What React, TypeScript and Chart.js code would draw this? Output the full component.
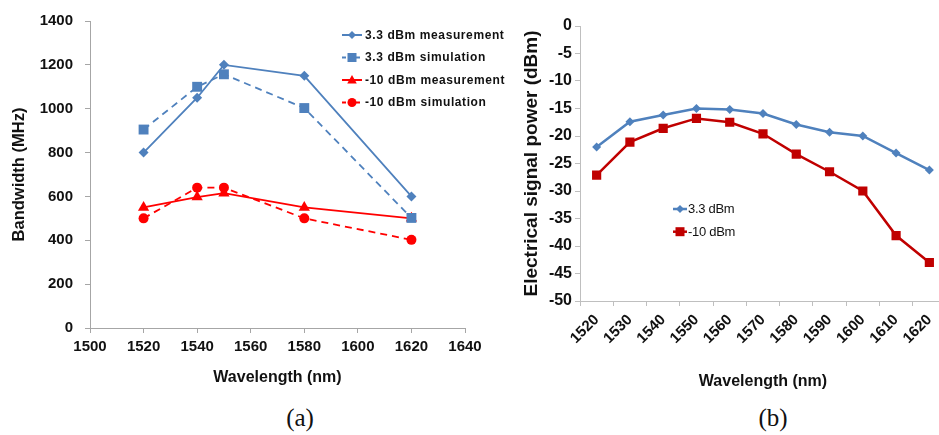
import React, { useEffect, useRef } from 'react';
import { Chart, registerables } from 'chart.js';

Chart.register(...registerables);

// ---------- Panel (a) data ----------
const wavelengthsA = [1520, 1540, 1550, 1580, 1620];
const meas33 = [800, 1050, 1200, 1150, 600];
const sim33 = [905, 1100, 1157, 1003, 502];
const meas10 = [550, 597, 615, 550, 500];
const sim10 = [500, 640, 640, 500, 402];
const labelsA = ['3.3 dBm measurement', '3.3 dBm simulation', '-10 dBm measurement', '-10 dBm simulation'];

// ---------- Panel (b) data ----------
const categoriesB = ['1520', '1530', '1540', '1550', '1560', '1570', '1580', '1590', '1600', '1610', '1620'];
const power33 = [-22, -17.4, -16.2, -15, -15.2, -15.9, -17.9, -19.3, -20, -23.1, -26.2];
const powerM10 = [-27.1, -21.1, -18.6, -16.8, -17.5, -19.6, -23.3, -26.5, -30, -38.1, -43];
const labelsB = ['3.3 dBm', '-10 dBm'];

const BLUE = '#4F81BD';
const RED = '#FF0000';
const DARKRED = '#C00000';
const AXIS = '#A6A6A6';
const SANS = '"Liberation Sans", Arial, sans-serif';

const plain = (v: any) => String(v);

function drawMarker(ctx: CanvasRenderingContext2D, style: string, x: number, y: number, r: number, color: string) {
  ctx.save();
  ctx.fillStyle = color;
  ctx.beginPath();
  if (style === 'rectRot') {
    ctx.moveTo(x, y - r);
    ctx.lineTo(x + r, y);
    ctx.lineTo(x, y + r);
    ctx.lineTo(x - r, y);
    ctx.closePath();
  } else if (style === 'rect') {
    ctx.rect(x - r, y - r, 2 * r, 2 * r);
  } else if (style === 'triangle') {
    ctx.moveTo(x, y - r);
    ctx.lineTo(x + r * 0.95, y + r * 0.7);
    ctx.lineTo(x - r * 0.95, y + r * 0.7);
    ctx.closePath();
  } else {
    ctx.arc(x, y, r, 0, Math.PI * 2);
  }
  ctx.fill();
  ctx.restore();
}

type LegendSpec = {
  x0: number; x1: number; mx: number; tx: number; y0: number; dy: number;
  font: string; sizes: number[]; lineWidth: number; spacing: string;
};

function makeLegendPlugin(id: string, spec: LegendSpec) {
  return {
    id,
    afterDraw(chart: any) {
      const ctx: any = chart.ctx;
      ctx.save();
      chart.data.datasets.forEach((ds: any, i: number) => {
        const y = spec.y0 + i * spec.dy;
        ctx.strokeStyle = ds.borderColor;
        ctx.lineWidth = spec.lineWidth;
        ctx.setLineDash(ds.borderDash && ds.borderDash.length ? [4, 3] : []);
        ctx.beginPath();
        ctx.moveTo(spec.x0, y);
        ctx.lineTo(spec.x1, y);
        ctx.stroke();
        ctx.setLineDash([]);
        drawMarker(ctx, ds.pointStyle, spec.mx, y, spec.sizes[i], ds.pointBackgroundColor);
        ctx.fillStyle = '#111';
        ctx.font = spec.font;
        ctx.letterSpacing = spec.spacing;
        ctx.textAlign = 'left';
        ctx.textBaseline = 'middle';
        ctx.fillText(ds.label, spec.tx, y + 0.5);
      });
      ctx.restore();
    },
  };
}

function PanelA() {
  const ref = useRef<HTMLCanvasElement>(null);
  useEffect(() => {
    const toPts = (vals: number[]) => wavelengthsA.map((x, i) => ({ x, y: vals[i] }));
    const mk = (label: string, vals: number[], color: string, style: string, dashed: boolean, r: number) => ({
      label,
      data: toPts(vals),
      borderColor: color,
      backgroundColor: color,
      pointBackgroundColor: color,
      pointBorderColor: color,
      pointBorderWidth: 0,
      pointStyle: style,
      pointRadius: r,
      borderWidth: 1.8,
      borderDash: dashed ? [7, 5] : [],
      tension: 0,
    });
    const chart = new Chart(ref.current!, {
      type: 'line',
      data: {
        datasets: [
          mk(labelsA[0], meas33, BLUE, 'rectRot', false, 5),
          mk(labelsA[1], sim33, BLUE, 'rect', true, 7),
          mk(labelsA[2], meas10, RED, 'triangle', false, 6.5),
          mk(labelsA[3], sim10, RED, 'circle', true, 5),
        ] as any,
      },
      options: {
        animation: false,
        responsive: false,
        layout: { padding: { left: 0, right: 55, top: 19, bottom: 0 } },
        plugins: { legend: { display: false }, tooltip: { enabled: false } },
        scales: {
          x: {
            type: 'linear',
            min: 1500,
            max: 1640,
            afterFit: (s: any) => { s.height = 395 - 328; },
            ticks: { stepSize: 20, callback: plain, color: '#111', font: { family: SANS, size: 15, weight: 'bold' }, padding: 5, maxRotation: 0 },
            grid: { drawOnChartArea: false, drawTicks: true, tickLength: 5, color: AXIS },
            border: { display: true, color: AXIS, width: 1 },
            title: { display: true, text: 'Wavelength (nm)', color: '#111', font: { family: SANS, size: 16, weight: 'bold' }, padding: { top: 0, bottom: 8 } },
          },
          y: {
            type: 'linear',
            min: 0,
            max: 1400,
            afterFit: (s: any) => { s.width = 90; },
            ticks: { stepSize: 200, callback: plain, color: '#111', font: { family: SANS, size: 15, weight: 'bold' }, padding: 12 },
            grid: { drawOnChartArea: false, drawTicks: true, tickLength: 5, color: AXIS },
            border: { display: true, color: AXIS, width: 1 },
            title: { display: true, text: 'Bandwidth (MHz)', color: '#111', font: { family: SANS, size: 16.5, weight: 'bold' }, padding: { top: 10, bottom: 0 } },
          },
        },
      } as any,
      plugins: [makeLegendPlugin('legendA', {
        x0: 342, x1: 362, mx: 352, tx: 365, y0: 35, dy: 22.5,
        font: `bold 12px ${SANS}`, sizes: [4, 4.5, 5, 4.5], lineWidth: 2, spacing: '0.6px',
      })],
    });
    return () => chart.destroy();
  }, []);
  return (
    <canvas ref={ref} width={520} height={395}
      style={{ position: 'absolute', left: 0, top: 0, width: 520, height: 395 }} />
  );
}

function PanelB() {
  const ref = useRef<HTMLCanvasElement>(null);
  useEffect(() => {
    const mk = (label: string, vals: number[], color: string, style: string, r: number) => ({
      label,
      data: vals,
      borderColor: color,
      backgroundColor: color,
      pointBackgroundColor: color,
      pointBorderColor: color,
      pointBorderWidth: 0,
      pointStyle: style,
      pointRadius: r,
      borderWidth: 2.5,
      tension: 0,
    });
    const chart = new Chart(ref.current!, {
      type: 'line',
      data: {
        labels: categoriesB,
        datasets: [
          mk(labelsB[0], power33, BLUE, 'rectRot', 4.5),
          mk(labelsB[1], powerM10, DARKRED, 'rect', 6.5),
        ] as any,
      },
      options: {
        animation: false,
        responsive: false,
        layout: { padding: { left: 0, right: 14, top: 26, bottom: 0 } },
        plugins: { legend: { display: false }, tooltip: { enabled: false } },
        scales: {
          x: {
            type: 'category',
            offset: true,
            afterFit: (s: any) => { s.height = 395 - 301; },
            ticks: { color: '#111', font: { family: SANS, size: 15, weight: 'bold' }, padding: 5, minRotation: 45, maxRotation: 45, autoSkip: false },
            grid: { offset: true, drawOnChartArea: false, drawTicks: true, tickLength: 5, color: '#BFBFBF' },
            border: { display: true, color: '#BFBFBF', width: 1 },
            title: { display: true, text: 'Wavelength (nm)', color: '#111', font: { family: SANS, size: 16, weight: 'bold' }, padding: { top: 0, bottom: 4 } },
          },
          y: {
            type: 'linear',
            min: -50,
            max: 0,
            afterFit: (s: any) => { s.width = 90; },
            ticks: { stepSize: 5, callback: plain, color: '#111', font: { family: SANS, size: 16, weight: 'bold' }, padding: 3 },
            grid: { drawOnChartArea: false, drawTicks: true, tickLength: 5, color: '#BFBFBF' },
            border: { display: true, color: '#BFBFBF', width: 1 },
            title: { display: true, text: 'Electrical signal power (dBm)', color: '#111', font: { family: SANS, size: 19, weight: 'bold' }, padding: { top: 30, bottom: 0 } },
          },
        },
      } as any,
      plugins: [makeLegendPlugin('legendB', {
        x0: 183, x1: 197, mx: 190, tx: 198, y0: 209, dy: 22.7,
        font: `13px ${SANS}`, sizes: [4, 4.5], lineWidth: 2.5, spacing: '-0.3px',
      })],
    });
    return () => chart.destroy();
  }, []);
  return (
    <canvas ref={ref} width={470} height={395}
      style={{ position: 'absolute', left: 490, top: 0, width: 470, height: 395 }} />
  );
}

export default function App() {
  const caption: React.CSSProperties = {
    position: 'absolute', top: 403, width: 60, textAlign: 'center',
    fontFamily: '"Liberation Serif", "Times New Roman", serif', fontSize: 25, lineHeight: '30px', color: '#111',
  };
  return (
    <div style={{ position: 'fixed', left: 0, top: 0, width: 939, height: 435, overflow: 'hidden', background: '#fff' }}>
      <PanelA />
      <PanelB />
      <div style={{ ...caption, left: 270 }}>(a)</div>
      <div style={{ ...caption, left: 743 }}>(b)</div>
    </div>
  );
}
